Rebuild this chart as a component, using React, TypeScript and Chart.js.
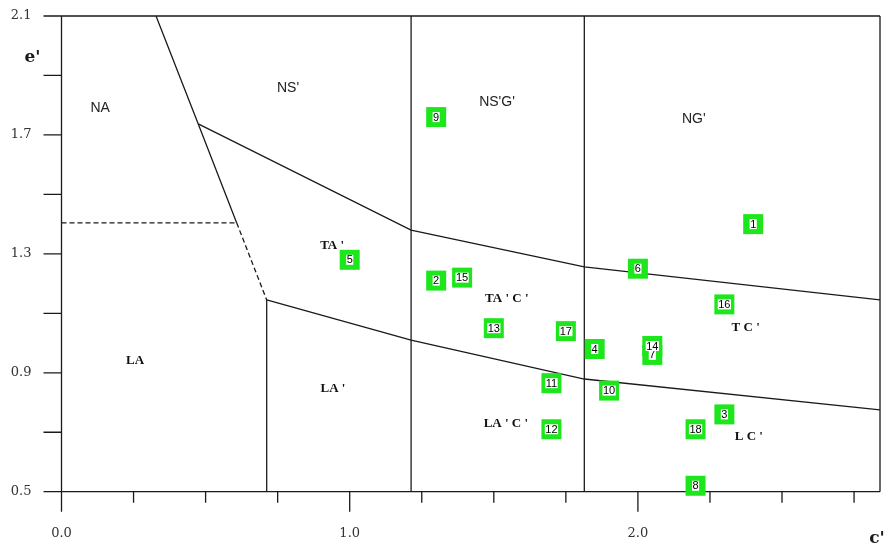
import { useEffect, useRef } from 'react';
import { Chart, registerables } from 'chart.js';

Chart.register(...registerables);

// Sample points: number, c' and e'
const sampleIds = [1, 2, 3, 4, 5, 6, 7, 8, 9, 10, 11, 12, 13, 14, 15, 16, 17, 18];
const sampleC = [2.4, 1.3, 2.3, 1.85, 1.0, 2.0, 2.05, 2.2, 1.3, 1.9, 1.7, 1.7, 1.5, 2.05, 1.39, 2.3, 1.75, 2.2];
const sampleE = [1.4, 1.21, 0.76, 0.98, 1.28, 1.25, 0.96, 0.52, 1.76, 0.84, 0.865, 0.71, 1.05, 0.99, 1.22, 1.13, 1.04, 0.71];

// Axis ranges and ticks
const cMin = 0;
const cMax = 2.84;
const eMin = 0.5;
const eMax = 2.1;
const cTicks = [0, 0.25, 0.5, 0.75, 1, 1.25, 1.5, 1.75, 2, 2.25, 2.5, 2.75];
const cMajorTicks = [0, 1, 2];
const eTicks = [0.5, 0.7, 0.9, 1.1, 1.3, 1.5, 1.7, 1.9, 2.1];
const eLabelledTicks = [0.5, 0.9, 1.3, 1.7, 2.1];

// Zone boundaries as [c', e'] pairs
const steepSolid = [[0.328, 2.1], [0.4745, 1.737], [0.608, 1.404]];
const steepDashed = [[0.608, 1.404], [0.712, 1.145]];
const flatDashed = [[0, 1.404], [0.608, 1.404]];
const upperBoundary = [[0.4745, 1.737], [1.213, 1.38], [1.814, 1.256], [2.84, 1.145]];
const lowerBoundary = [[0.712, 1.145], [1.213, 1.01], [1.814, 0.879], [2.84, 0.775]];
const dividerA = [[0.712, 1.145], [0.712, 0.5]];
const dividerB = [[1.213, 0.5], [1.213, 2.1]];
const dividerC = [[1.814, 0.5], [1.814, 2.1]];

// Zone names
const upperZoneNames = ['NA', "NS'", "NS'G'", "NG'"];
const upperZoneC = [0.134, 0.786, 1.511, 2.194];
const upperZoneE = [1.79, 1.858, 1.811, 1.754];

const lowerZoneNames = ["TA '", "TA ' C '", "T C '", 'LA', "LA '", "LA ' C '", "L C '"];
const lowerZoneC = [0.939, 1.545, 2.374, 0.255, 0.942, 1.542, 2.385];
const lowerZoneE = [1.326, 1.151, 1.051, 0.94, 0.845, 0.728, 0.684];

const INK = '#1a1a1a';

const toPoints = (pairs: number[][]) => pairs.map(([x, y]) => ({ x, y }));

const lineSet = (pairs: number[][], dashed = false) => ({
  data: toPoints(pairs),
  showLine: true,
  borderColor: INK,
  borderWidth: 1.3,
  borderDash: dashed ? [5, 3] : [],
  pointRadius: 0,
  fill: false,
  tension: 0,
  order: 1,
});

const framePlugin = {
  id: 'frame',
  beforeDatasetsDraw(chart: any) {
    const { ctx, chartArea } = chart;
    const xs = chart.scales.x;
    const ys = chart.scales.y;
    const { left, right, top, bottom } = chartArea;
    ctx.save();
    ctx.strokeStyle = INK;
    ctx.lineWidth = 1.3;
    ctx.beginPath();
    // axes and frame
    ctx.moveTo(left, top);
    ctx.lineTo(left, bottom);
    ctx.moveTo(left, bottom);
    ctx.lineTo(right, bottom);
    ctx.moveTo(left, top);
    ctx.lineTo(right, top);
    ctx.moveTo(right, top);
    ctx.lineTo(right, bottom);
    // e' ticks
    eTicks.forEach((v) => {
      const py = ys.getPixelForValue(v);
      ctx.moveTo(left - 18, py);
      ctx.lineTo(left, py);
    });
    // c' ticks
    cTicks.forEach((v) => {
      const px = xs.getPixelForValue(v);
      const len = cMajorTicks.includes(v) ? 20 : 11;
      ctx.moveTo(px, bottom);
      ctx.lineTo(px, bottom + len);
    });
    ctx.stroke();

    // axis titles
    ctx.fillStyle = INK;
    ctx.font = 'bold 17px "DejaVu Serif"';
    ctx.textAlign = 'center';
    ctx.textBaseline = 'middle';
    ctx.fillText("e'", left - 29, top + 42);
    ctx.fillText("c'", right - 3, bottom + 47);

    // zone names
    ctx.font = '14px "Liberation Sans"';
    ctx.fillStyle = '#222';
    upperZoneNames.forEach((t, i) => {
      ctx.fillText(t, xs.getPixelForValue(upperZoneC[i]), ys.getPixelForValue(upperZoneE[i]));
    });
    ctx.font = 'bold 13px "Liberation Serif"';
    ctx.fillStyle = '#111';
    lowerZoneNames.forEach((t, i) => {
      ctx.fillText(t, xs.getPixelForValue(lowerZoneC[i]), ys.getPixelForValue(lowerZoneE[i]));
    });
    ctx.restore();
  },
  afterDatasetsDraw(chart: any) {
    const { ctx } = chart;
    const meta = chart.getDatasetMeta(0);
    ctx.save();
    ctx.font = '11px "Liberation Sans"';
    ctx.textAlign = 'center';
    ctx.textBaseline = 'middle';
    meta.data.forEach((pt: any, i: number) => {
      const label = String(sampleIds[i]);
      const w = ctx.measureText(label).width + 1;
      ctx.fillStyle = '#ffffff';
      ctx.fillRect(pt.x - w / 2, pt.y - 5, w, 10);
      ctx.fillStyle = '#000';
      ctx.fillText(label, pt.x, pt.y + 0.5);
    });
    ctx.restore();
  },
};

export default function App() {
  const canvasRef = useRef<HTMLCanvasElement | null>(null);

  useEffect(() => {
    const canvas = canvasRef.current;
    if (!canvas) return;
    const chart = new Chart(canvas, {
      type: 'scatter',
      data: {
        datasets: [
          {
            data: sampleC.map((c, i) => ({ x: c, y: sampleE[i] })),
            pointStyle: 'rect',
            pointRadius: 14.14,
            pointHoverRadius: 14.14,
            pointBackgroundColor: '#1de61d',
            pointBorderWidth: 0,
            clip: false,
            order: 0,
          },
          lineSet(steepSolid),
          lineSet(steepDashed, true),
          lineSet(flatDashed, true),
          lineSet(upperBoundary),
          lineSet(lowerBoundary),
          lineSet(dividerA),
          lineSet(dividerB),
          lineSet(dividerC),
        ] as any,
      },
      options: {
        responsive: false,
        animation: false,
        devicePixelRatio: 1,
        events: [],
        layout: { autoPadding: false, padding: { left: 0, top: 16, right: 5, bottom: 0 } },
        plugins: { legend: { display: false }, tooltip: { enabled: false }, title: { display: false } },
        scales: {
          x: {
            type: 'linear',
            min: cMin,
            max: cMax,
            afterBuildTicks: (s: any) => {
              s.ticks = cTicks.map((v) => ({ value: v }));
            },
            afterFit: (s: any) => {
              s.height = 55.3;
              s.paddingLeft = 0;
              s.paddingRight = 0;
            },
            grid: { display: false, drawTicks: false },
            border: { display: false },
            ticks: {
              autoSkip: false,
              maxRotation: 0,
              padding: 34,
              color: '#333',
              font: { family: '"DejaVu Serif"', size: 13 },
              callback: (v: any) => (cMajorTicks.includes(Number(v)) ? Number(v).toFixed(1) : ''),
            },
          },
          y: {
            type: 'linear',
            min: eMin,
            max: eMax,
            afterBuildTicks: (s: any) => {
              s.ticks = eTicks.map((v) => ({ value: v }));
            },
            afterFit: (s: any) => {
              s.width = 61.5;
              s.paddingTop = 0;
              s.paddingBottom = 0;
            },
            grid: { display: false, drawTicks: false },
            border: { display: false },
            ticks: {
              autoSkip: false,
              padding: 30,
              color: '#333',
              font: { family: '"DejaVu Serif"', size: 13 },
              callback: (v: any) => (eLabelledTicks.includes(Number(v)) ? Number(v).toFixed(1) : ''),
            },
          },
        },
      } as any,
      plugins: [framePlugin],
    });
    return () => chart.destroy();
  }, []);

  return (
    <div style={{ position: 'absolute', left: 0, top: 0, width: 885, height: 547, background: '#fff' }}>
      <canvas ref={canvasRef} width={885} height={547} />
    </div>
  );
}
